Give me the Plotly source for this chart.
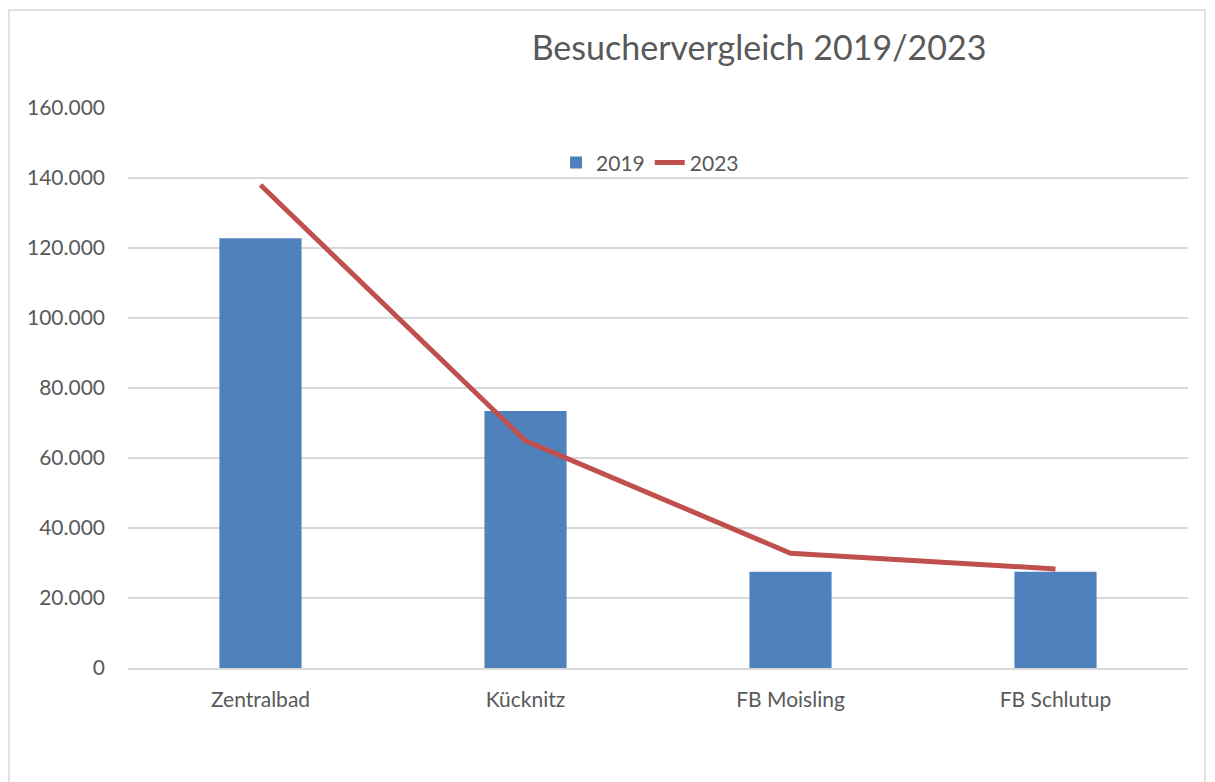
import plotly.graph_objects as go

standorte = ["Zentralbad", "Kücknitz", "FB Moisling", "FB Schlutup"]
besucher_2019 = [122800, 73400, 27500, 27500]
besucher_2023 = [138000, 64900, 32800, 28300]

FONT = "Lato, Open Sans, Liberation Sans, sans-serif"
GREY_TEXT = "#595959"

fig = go.Figure()
fig.add_trace(go.Bar(
    x=standorte,
    y=besucher_2019,
    name="2019",
    marker=dict(color="#4F81BD", line=dict(width=0)),
))
fig.add_trace(go.Scatter(
    x=standorte,
    y=besucher_2023,
    name="2023",
    mode="lines",
    line=dict(color="#C0504D", width=5),
))

# Seite hat 8px Rand, daher Figur etwas kleiner
fig.update_layout(
    width=1207,
    height=774,
    margin=dict(l=120, r=27, t=100, b=114),
    paper_bgcolor="white",
    plot_bgcolor="white",
    separators=",.",
    bargap=0.69,
    font=dict(family=FONT, size=21, color=GREY_TEXT),
    title=dict(
        text="Besuchervergleich 2019/2023",
        x=(759 - 8) / 1207,
        xanchor="center",
        y=1 - (48 - 8) / 774,
        yanchor="middle",
        font=dict(family=FONT, size=34, color=GREY_TEXT),
    ),
    legend=dict(
        orientation="h",
        x=0.4925,
        xanchor="center",
        y=0.902,
        yanchor="middle",
        font=dict(family=FONT, size=21, color=GREY_TEXT),
        bgcolor="rgba(0,0,0,0)",
        traceorder="normal",
    ),
    showlegend=True,
)

fig.update_yaxes(
    range=[0, 160000],
    dtick=20000,
    tickformat=",d",
    showgrid=True,
    gridcolor="#D9D9D9",
    gridwidth=1.5,
    zeroline=False,
    showline=False,
    ticks="",
    ticklabelstandoff=22,
)
fig.update_xaxes(
    showgrid=False,
    showline=True,
    linecolor="#D9D9D9",
    linewidth=1.5,
    ticks="",
    ticklabelstandoff=12,
)

# Rahmen um das Diagramm
fig.add_shape(
    type="rect",
    xref="paper", yref="paper",
    x0=-119 / 1060, x1=1 + 17 / 1060,
    y0=-120 / 560, y1=1 + 98 / 560,
    line=dict(color="#D9D9D9", width=1.5),
    fillcolor="rgba(0,0,0,0)",
    layer="below",
)

fig.write_html("out.html")
